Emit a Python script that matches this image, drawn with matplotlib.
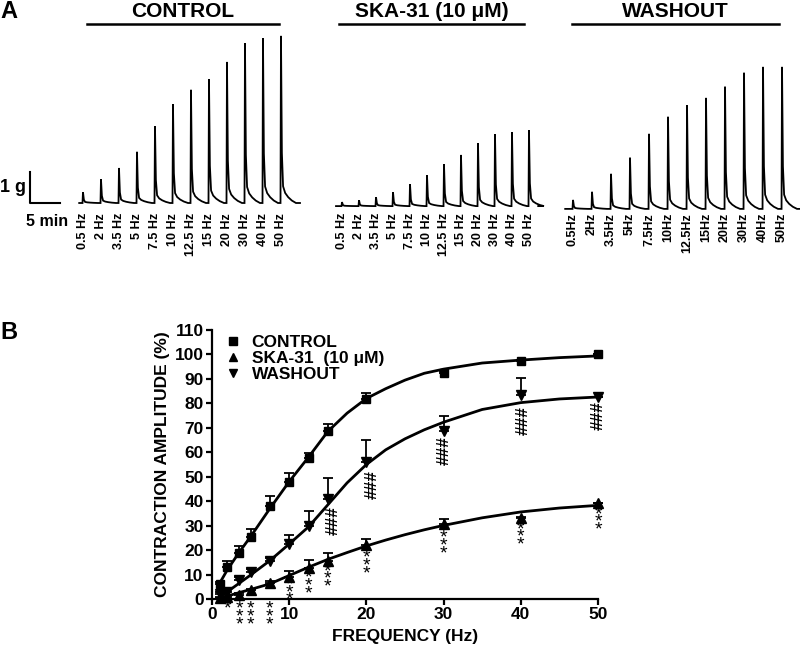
import numpy as np
import matplotlib
matplotlib.use('Agg')
import matplotlib.pyplot as plt

plt.rcParams['font.family'] = ['Liberation Sans', 'DejaVu Sans']
plt.rcParams['font.weight'] = 'bold'

# ---------------- panel A: raw force traces ----------------
hz_labels = ['0.5 Hz', '2 Hz', '3.5 Hz', '5 Hz', '7.5 Hz', '10 Hz',
             '12.5 Hz', '15 Hz', '20 Hz', '30 Hz', '40 Hz', '50 Hz']
hz_labels_wash = ['0.5Hz', '2Hz', '3.5Hz', '5Hz', '7.5Hz', '10Hz',
                  '12.5Hz', '15Hz', '20Hz', '30Hz', '40Hz', '50Hz']

# peak force (g) of each contraction
amp_control = [0.35, 0.77, 1.13, 1.65, 2.48, 3.19, 3.65, 4.0, 4.55, 5.16, 5.32, 5.39]
amp_ska = [0.13, 0.19, 0.29, 0.45, 0.71, 1.0, 1.35, 1.65, 2.03, 2.32, 2.39, 2.45]
amp_wash = [0.29, 0.55, 1.13, 1.65, 2.42, 2.97, 3.35, 3.58, 3.94, 4.39, 4.58, 4.58]

# ---------------- panel B: frequency-response ----------------
freq = [1, 2, 3.5, 5, 7.5, 10, 12.5, 15, 20, 30, 40, 50]
ctrl = [6, 13, 18.8, 25.4, 38, 48, 57.7, 68.7, 81.8, 92.4, 97.3, 100]
ctrl_err = [1, 2.7, 3, 3.2, 4, 3.5, 2, 3, 2.3, 0.8, 0.5, 0]
ska = [0.5, 1, 1.8, 3.5, 6.4, 9, 12.8, 15.7, 22, 30.7, 33, 39.1]
ska_err = [0.5, 0.5, 0.5, 0.5, 0.8, 2.4, 3, 3, 2.7, 2, 0.5, 0]
wash = [2, 3, 7.8, 10.9, 15.7, 22.5, 30, 41, 56, 68.5, 83.5, 82.7]
wash_err = [1, 1, 1.2, 1.5, 1, 3.8, 5.8, 8.5, 9, 6.5, 7, 0]

# fitted curves
fit_x = [1, 2, 3.5, 5, 7.5, 10, 12.5, 15, 17.5, 20, 22.5, 25, 27.5, 30, 35, 40, 45, 50]
fit_ctrl = [6.5, 12, 19, 25.5, 37, 48, 58, 68.5, 76, 82, 86, 89.5, 92.3, 94, 96.5, 97.7, 98.7, 99.4]
fit_wash = [1, 3, 6.4, 9.8, 15.7, 22.5, 29.5, 38.5, 47.5, 55, 61, 65.5, 69.2, 72.3, 77.5, 80.3, 81.8, 82.6]
fit_ska = [0.3, 1.2, 2.6, 3.9, 6.2, 9.6, 13, 16.2, 19, 21.7, 24.1, 26.3, 28.3, 30.1, 33.2, 35.6, 37.2, 38.3]

# significance marks
stars_x = [10, 12.5, 15, 20, 30, 40, 50]
stars_y = [4.2, 6.9, 9.6, 15.1, 23.3, 26.8, 32.9]
low_stars_x = [2, 3.5, 5, 7.5]
low_stars_txt = ['*', '*\n*\n*', '*\n*\n*', '*\n*\n*']
hash_x = [15.7, 20.7, 30.1, 40.3, 50]
hash_y = [32, 47, 60.5, 73, 75]

# twitch shape (relative time in min, relative force)
shape_t = [-0.08, 0, 0.15, 0.35, 0.7, 1.2, 1.8, 2.5]
shape_y = [0, 1, 0.3, 0.1, 0.06, 0.035, 0.015, 0]


def trace(t0, dt, amps, start, end, base):
    xs, ys = [start], [base]
    for i, a in enumerate(amps):
        t = t0 + dt * i
        for sx, sy in zip(shape_t, shape_y):
            xs.append(t + sx)
            ys.append(base + a * sy)
    xs.append(end)
    ys.append(base)
    return xs, ys


fig = plt.figure(figsize=(8, 6.49), dpi=100)

axA = fig.add_axes([0, (649 - 260) / 649, 1, 260 / 649])
axA.set_xlim(0, 800 / 6)
axA.set_ylim(-(260 - 203) / 31, 203 / 31)
axA.axis('off')

traces = [
    (13.83, 3.0, amp_control, 13.2, 50.0, 0.0, hz_labels, 'CONTROL', 14.5, 46.5),
    (57.0, 2.833, amp_ska, 56.0, 89.7, -0.1, hz_labels, u'SKA-31 (10 \u03bcM)', 56.5, 87.3),
    (95.5, 3.167, amp_wash, 94.2, 133.3, -0.19, hz_labels_wash, 'WASHOUT', 95.3, 129.8),
]
for t0, dt, amps, st, en, base, labs, title, b0, b1 in traces:
    xs, ys = trace(t0, dt, amps, st, en, base)
    axA.plot(xs, ys, color='black', lw=1.3, solid_joinstyle='miter')
    for i, lab in enumerate(labs):
        axA.text(t0 + dt * i, -0.32, lab, rotation=90, ha='center', va='top',
                 fontsize=9, fontweight='bold')
    axA.plot([b0, b1], [5.77, 5.77], color='black', lw=1.8)
    axA.text((b0 + b1) / 2, 6.18, title, ha='center', va='center',
             fontsize=15, fontweight='bold')

# scale bar
axA.plot([5, 5, 10], [1, 0.0, 0.0], color='black', lw=1.5)
axA.text(4.3, 0.5, '1 g', ha='right', va='center', fontsize=13, fontweight='bold')
axA.text(11.4, -0.61, '5 min', ha='right', va='center', fontsize=11.5, fontweight='bold')

fig.text(0.0, 1 - 11 / 649, 'A', ha='left', va='center', fontsize=17, fontweight='bold')
fig.text(0.0, 1 - 332 / 649, 'B', ha='left', va='center', fontsize=17, fontweight='bold')

# ---------------- panel B ----------------
ax = fig.add_axes([212 / 800, 50 / 649, 386 / 800, 269 / 649])
zeros = [0] * len(freq)
ek = dict(fmt='none', ecolor='black', elinewidth=1.3, capsize=3.5, capthick=1.3, clip_on=False)
ax.errorbar(freq, ctrl, yerr=[zeros, ctrl_err], **ek)
ax.errorbar(freq, ska, yerr=[zeros, ska_err], **ek)
ax.errorbar(freq, wash, yerr=[zeros, wash_err], **ek)

ax.plot(fit_x, fit_ctrl, color='black', lw=2)
ax.plot(fit_x, fit_wash, color='black', lw=2)
ax.plot(fit_x, fit_ska, color='black', lw=2)

ax.plot(freq, ctrl, 's', color='black', ms=6, clip_on=False, label='CONTROL')
ax.plot(freq, ska, '^', color='black', ms=6.5, clip_on=False, label=u'SKA-31  (10 \u03bcM)')
ax.plot(freq, wash, 'v', color='black', ms=6.5, clip_on=False, label='WASHOUT')

for x, y in zip(stars_x, stars_y):
    ax.text(x, y - 1.6, '*\n*\n*', ha='center', va='center', fontsize=14,
            linespacing=0.29, fontweight='normal')
for x, t in zip(low_stars_x, low_stars_txt):
    ax.text(x, -0.8, t, ha='center', va='top', fontsize=14,
            linespacing=0.29, fontweight='normal')
for x, y in zip(hash_x, hash_y):
    ax.text(x, y, '###', rotation=90, ha='center', va='center', fontsize=12.5,
            fontweight='bold')

ax.set_xlim(0, 50)
ax.set_ylim(0, 110)
ax.set_xticks([0, 10, 20, 30, 40, 50])
ax.set_yticks(range(0, 111, 10))
for s in ['top', 'right']:
    ax.spines[s].set_visible(False)
for s in ['left', 'bottom']:
    ax.spines[s].set_linewidth(1.6)
ax.tick_params(direction='out', length=4, width=1.6, labelsize=12.5, pad=2)
for lab in ax.get_xticklabels() + ax.get_yticklabels():
    lab.set_fontweight('bold')
ax.set_xlabel('FREQUENCY (Hz)', fontsize=12.5, fontweight='bold', labelpad=5)
ax.set_ylabel('CONTRACTION AMPLITUDE (%)', fontsize=12.5, fontweight='bold', labelpad=3)

leg = ax.legend(loc='upper left', bbox_to_anchor=(-0.005, 1.04), frameon=False,
                handlelength=0.8, handletextpad=0.7, labelspacing=0.05,
                prop={'weight': 'bold', 'size': 12.5}, markerscale=0.9)

fig.savefig('out.png', dpi=100)
